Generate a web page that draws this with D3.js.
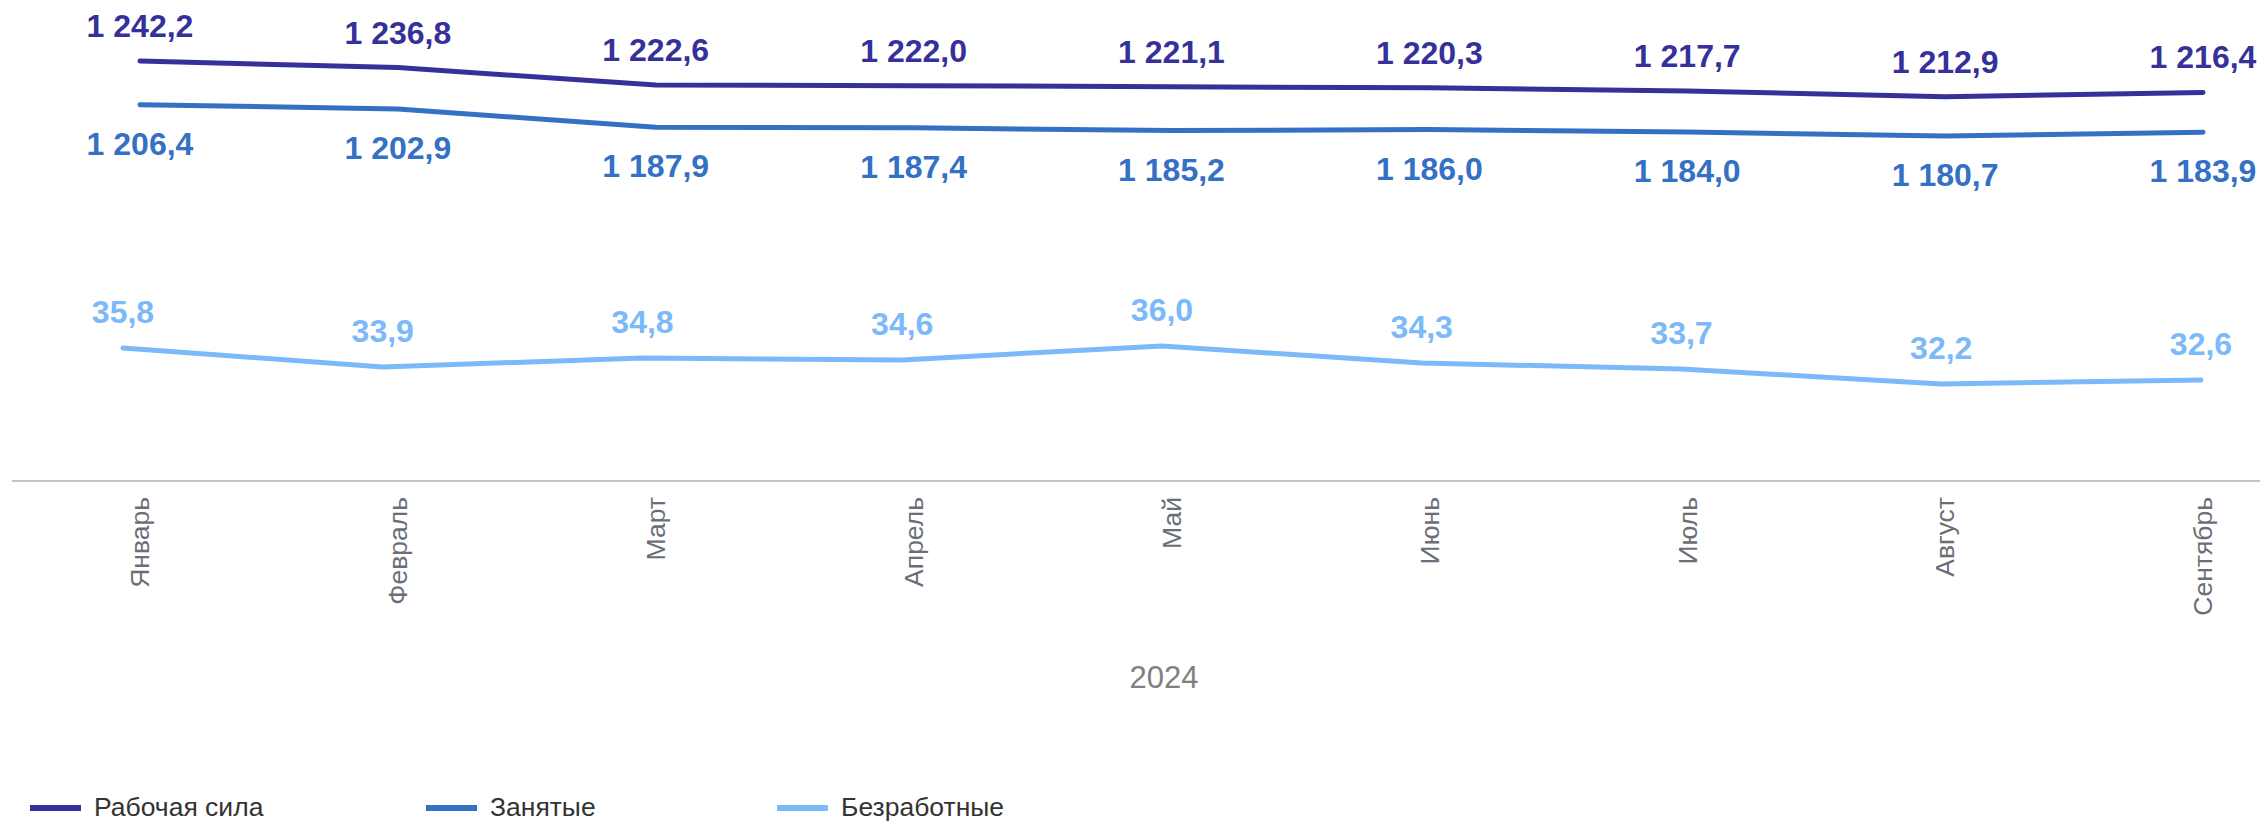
<!DOCTYPE html>
<html>
<head>
<meta charset="utf-8">
<script src="https://cdn.jsdelivr.net/npm/d3@7"></script>
<style>
  html, body { margin: 0; padding: 0; background: #fff; }
  svg { display: block; font-family: "Liberation Sans", Arial, sans-serif; }
</style>
</head>
<body>
<svg width="2260" height="825"></svg>
<script>
// data
const months = ['Январь', 'Февраль', 'Март', 'Апрель', 'Май', 'Июнь', 'Июль', 'Август', 'Сентябрь'];
const labor = [1242.2, 1236.8, 1222.6, 1222.0, 1221.1, 1220.3, 1217.7, 1212.9, 1216.4];
const employed = [1206.4, 1202.9, 1187.9, 1187.4, 1185.2, 1186.0, 1184.0, 1180.7, 1183.9];
const unemployed = [35.8, 33.9, 34.8, 34.6, 36.0, 34.3, 33.7, 32.2, 32.6];
const yearLabel = '2024';
const seriesNames = ['Рабочая сила', 'Занятые', 'Безработные'];

const colors = ['#36309a', '#3470c4', '#7cb9f8'];

const ru = d3.formatLocale({decimal: ',', thousands: '\u00a0', grouping: [3], currency: ['', '']});
const fmt = ru.format(',.1f');

function drawChart() {
  const svg = d3.select('svg');
  const w = +svg.attr('width');
  const axisY = 481;

  // top panel (labor force / employed) and lower panel (unemployed) have their own scales
  const xTop = d3.scalePoint().domain(months).range([140, 2203]);
  const xLow = d3.scalePoint().domain(months).range([123, 2201]);
  const yTop = d3.scaleLinear().domain([1150, 1250]).range([173.5, 51.5]);
  const yLow = d3.scaleLinear().domain([30, 40]).range([406, 306]);

  const series = [
    {name: seriesNames[0], values: labor, x: xTop, y: yTop, color: colors[0], dy: -24},
    {name: seriesNames[1], values: employed, x: xTop, y: yTop, color: colors[1], dy: 50},
    {name: seriesNames[2], values: unemployed, x: xLow, y: yLow, color: colors[2], dy: -25}
  ];

  // x axis line
  svg.append('line')
    .attr('x1', 12).attr('x2', w)
    .attr('y1', axisY).attr('y2', axisY)
    .attr('stroke', '#c4c4c4')
    .attr('stroke-width', 2);

  // month labels (rotated)
  svg.append('g').selectAll('text')
    .data(months)
    .enter()
    .append('text')
    .attr('transform', d => 'translate(' + xTop(d) + ',' + (axisY + 16) + ') rotate(-90)')
    .attr('text-anchor', 'end')
    .attr('dy', '0.35em')
    .attr('font-size', 26.5)
    .attr('fill', '#6b6e76')
    .text(d => d);

  svg.append('text')
    .attr('x', 1164)
    .attr('y', 688)
    .attr('text-anchor', 'middle')
    .attr('font-size', 31)
    .attr('fill', '#808080')
    .text(yearLabel);

  series.forEach(s => {
    const line = d3.line()
      .x((d, i) => s.x(months[i]))
      .y(d => s.y(d));
    svg.append('path')
      .datum(s.values)
      .attr('d', line)
      .attr('fill', 'none')
      .attr('stroke', s.color)
      .attr('stroke-width', 5)
      .attr('stroke-linecap', 'round')
      .attr('stroke-linejoin', 'round');

    svg.append('g').selectAll('text')
      .data(s.values)
      .enter()
      .append('text')
      .attr('x', (d, i) => s.x(months[i]))
      .attr('y', d => s.y(d) + s.dy)
      .attr('text-anchor', 'middle')
      .attr('font-size', 32)
      .attr('font-weight', 'bold')
      .attr('fill', s.color)
      .text(d => fmt(d));
  });

  // legend
  const legendX = [30, 426, 777];
  const legend = svg.append('g').attr('id', 'legend');
  series.forEach((s, i) => {
    legend.append('line')
      .attr('x1', legendX[i]).attr('x2', legendX[i] + 51)
      .attr('y1', 808).attr('y2', 808)
      .attr('stroke', s.color)
      .attr('stroke-width', 6);
    legend.append('text')
      .attr('x', legendX[i] + 64)
      .attr('y', 816)
      .attr('font-size', 26.5)
      .attr('fill', '#333')
      .text(s.name);
  });
}

drawChart();
</script>
</body>
</html>
